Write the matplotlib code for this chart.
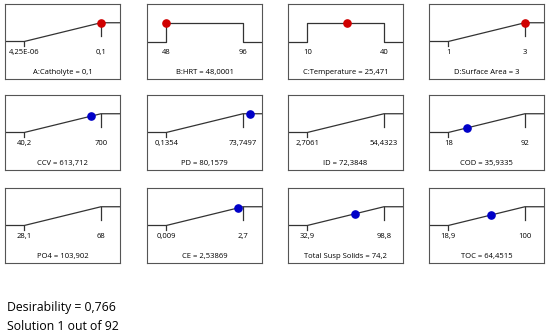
import matplotlib
matplotlib.use('Agg')
import matplotlib.pyplot as plt
import numpy as np

plt.rcParams['font.family'] = ['Open Sans', 'DejaVu Sans']

# desirability ramps: factors first, then responses
names = ['A:Catholyte', 'B:HRT', 'C:Temperature', 'D:Surface Area',
         'CCV', 'PD', 'ID', 'COD',
         'PO4', 'CE', 'Total Susp Solids', 'TOC']
lows = [4.25e-06, 48, 10, 1, 40.2, 0.1354, 2.7061, 18, 28.1, 0.009, 32.9, 18.9]
highs = [0.1, 96, 40, 3, 700, 73.7497, 54.4323, 92, 68, 2.7, 98.8, 100]
values = [0.1, 48.0001, 25.471, 3, 613.712, 80.1579, 72.3848, 35.9335,
          103.902, 2.53869, 74.2, 64.4515]
low_labels = ['4,25E-06', '48', '10', '1', '40,2', '0,1354', '2,7061', '18',
              '28,1', '0,009', '32,9', '18,9']
high_labels = ['0,1', '96', '40', '3', '700', '73,7497', '54,4323', '92',
               '68', '2,7', '98,8', '100']
value_labels = ['0,1', '48,0001', '25,471', '3', '613,712', '80,1579', '72,3848',
                '35,9335', '103,902', '2,53869', '74,2', '64,4515']
goals = ['max', 'range', 'range', 'max', 'max', 'max', 'max', 'max',
         'max', 'max', 'max', 'max']
is_factor = [True] * 4 + [False] * 8

desirability = '0,766'
solution = 'Solution 1 out of 92'

W, H = 550, 334
fig = plt.figure(figsize=(W / 100, H / 100), dpi=100)

col_left = [5, 147, 288, 429]
row_top = [4, 95, 188]
pw, ph = 115, 75

y_lo, y_hi = 0.5, 0.75
f_lo, f_hi = 0.167, 0.834

def curve(x, lo, hi, goal):
    x = np.asarray(x, dtype=float)
    if goal == 'range':
        return np.where((x >= lo) & (x <= hi), y_hi, y_lo)
    t = np.clip((x - lo) / (hi - lo), 0, 1)
    return y_lo + (y_hi - y_lo) * t

for i in range(12):
    r, c = divmod(i, 4)
    ax = fig.add_axes([col_left[c] / W, 1 - (row_top[r] + ph) / H, pw / W, ph / H])
    lo, hi, goal = lows[i], highs[i], goals[i]
    span = hi - lo
    x0 = lo - f_lo / (f_hi - f_lo) * span
    x1 = hi + (1 - f_hi) / (f_hi - f_lo) * span
    ax.set_xlim(x0, x1)
    ax.set_ylim(0, 1)

    if goal == 'range':
        xs = [x0, lo, lo, hi, hi, x1]
        ys = [y_lo, y_lo, y_hi, y_hi, y_lo, y_lo]
    else:
        xs = [x0, lo, hi, x1]
        ys = [y_lo, y_lo, y_hi, y_hi]
        ax.plot([lo, lo], [y_lo, 0.44], color='#333333', lw=0.9)
        ax.plot([hi, hi], [y_hi, 0.57], color='#333333', lw=0.9)
    ax.plot(xs, ys, color='#333333', lw=0.9)

    col = '#d00000' if is_factor[i] else '#0000c8'
    ax.plot([values[i]], [float(curve(values[i], lo, hi, goal))], 'o', ms=5.2,
            color=col, mec=col, zorder=5)

    ax.text(lo, 0.35, low_labels[i], ha='center', va='center', fontsize=5.5)
    ax.text(hi, 0.35, high_labels[i], ha='center', va='center', fontsize=5.5)
    ax.text(0.5, 0.09, names[i] + ' = ' + value_labels[i], transform=ax.transAxes,
            ha='center', va='center', fontsize=5.5)

    ax.set_xticks([])
    ax.set_yticks([])
    for s in ax.spines.values():
        s.set_color('#555555')
        s.set_linewidth(0.8)

fig.text(7 / W, 1 - 308 / H, 'Desirability = ' + desirability, fontsize=8.8,
         ha='left', va='center')
fig.text(7 / W, 1 - 326 / H, solution, fontsize=8.8, ha='left', va='center')

fig.savefig('out.png', dpi=100)
